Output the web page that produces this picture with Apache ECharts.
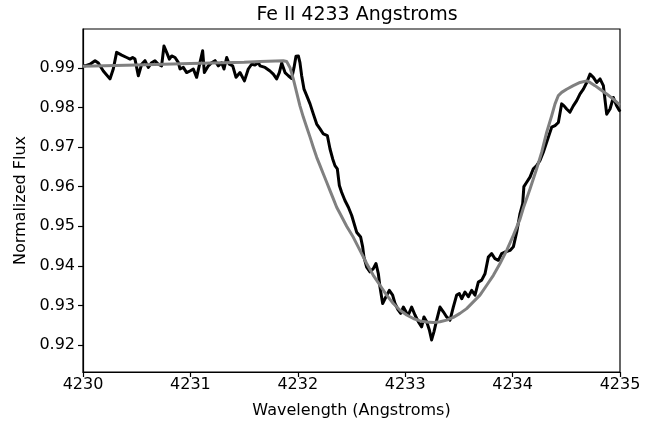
<!DOCTYPE html>
<html>
<head>
<meta charset="utf-8">
<script src="https://cdn.jsdelivr.net/npm/echarts@6/dist/echarts.min.js"></script>
<style>
html,body{margin:0;padding:0;background:#fff;}
#chart{width:659px;height:428px;}
</style>
</head>
<body>
<div id="chart"></div>
<script>
// Observed spectrum (black)
const obsWave = [
4230.000,4230.019,4230.065,4230.112,4230.143,4230.189,4230.251,4230.282,4230.313,4230.360,
4230.407,4230.438,4230.462,4230.484,4230.515,4230.546,4230.577,4230.608,4230.639,4230.670,
4230.701,4230.732,4230.754,4230.779,4230.804,4230.826,4230.857,4230.888,4230.903,4230.934,
4230.965,4230.996,4231.027,4231.058,4231.089,4231.114,4231.130,4231.145,4231.167,4231.198,
4231.229,4231.260,4231.291,4231.313,4231.338,4231.362,4231.394,4231.425,4231.462,4231.503,
4231.539,4231.570,4231.601,4231.633,
4231.648,4231.695,4231.741,4231.772,4231.803,4231.828,4231.850,4231.881,4231.912,4231.943,
4231.965,4231.983,4232.005,4232.020,4232.036,4232.058,4232.083,4232.114,4232.145,4232.176,
4232.207,4232.238,4232.275,4232.300,4232.325,4232.346,4232.368,4232.387,4232.408,4232.439,
4232.471,4232.502,
4232.548,4232.585,4232.604,4232.616,4232.641,4232.672,4232.703,4232.728,4232.750,4232.765,
4232.790,4232.821,4232.852,4232.883,4232.905,4232.936,4232.958,4232.983,4233.007,4233.029,
4233.060,4233.091,4233.122,4233.153,4233.175,4233.200,4233.225,4233.246,4233.268,4233.293,
4233.324,4233.355,4233.386,4233.417,4233.448,4233.479,4233.504,4233.526,4233.557,4233.588,
4233.619,4233.650,4233.681,4233.712,4233.743,4233.774,4233.805,4233.836,4233.867,4233.898,
4233.929,4233.976,4234.007,4234.038,4234.069,4234.094,4234.105,
4234.131,4234.162,4234.193,4234.224,4234.255,4234.286,4234.317,4234.348,4234.364,4234.395,
4234.426,4234.457,4234.479,4234.503,4234.534,4234.565,4234.597,4234.628,4234.659,4234.690,
4234.721,4234.752,4234.783,4234.814,4234.845,4234.876,4234.907,4234.938,4234.969,4234.994,
4235.000
];
const obsFlux = [
0.9905,0.9905,0.9909,0.9918,0.9912,0.9892,0.9872,0.9897,0.9939,0.9932,
0.9926,0.9922,0.9926,0.9922,0.9880,0.9909,0.9918,0.9901,0.9913,0.9918,
0.9909,0.9905,0.9955,0.9939,0.9922,0.9930,0.9926,0.9913,0.9897,0.9901,
0.9888,0.9892,0.9897,0.9876,0.9913,0.9943,0.9888,0.9884,0.9905,0.9913,
0.9918,0.9905,0.9913,0.9897,0.9926,0.9909,0.9905,0.9876,0.9888,0.9867,
0.9897,0.9909,0.9907,0.9913,
0.9905,0.9901,0.9892,0.9884,0.9872,0.9888,0.9912,0.9888,0.9880,0.9873,
0.9901,0.9929,0.9930,0.9913,0.9880,0.9846,0.9830,0.9809,0.9783,0.9758,
0.9746,0.9733,0.9729,0.9695,0.9670,0.9653,0.9645,0.9603,0.9586,0.9565,
0.9548,0.9527,
0.9485,0.9473,0.9448,0.9422,0.9397,0.9385,0.9393,0.9406,0.9380,0.9347,
0.9305,0.9322,0.9338,0.9326,0.9305,0.9288,0.9280,0.9296,0.9284,0.9276,
0.9296,0.9276,0.9259,0.9246,0.9271,0.9259,0.9238,0.9213,0.9234,0.9263,
0.9296,0.9284,0.9271,0.9263,0.9296,0.9326,0.9330,0.9317,0.9334,0.9322,
0.9338,0.9326,0.9359,0.9364,0.9380,0.9422,0.9431,0.9418,0.9414,0.9431,
0.9435,0.9439,0.9448,0.9485,0.9532,0.9557,0.9600,
0.9611,0.9624,0.9645,0.9653,0.9666,0.9687,0.9712,0.9737,0.9750,0.9754,
0.9762,0.9809,0.9804,0.9796,0.9788,0.9804,0.9817,0.9834,0.9846,0.9863,
0.9884,0.9876,0.9863,0.9872,0.9855,0.9783,0.9796,0.9825,0.9804,0.9792,
0.9795
];
// Model fit (grey)
const fitWave = [
4230.000,4230.500,4231.000,4231.500,4231.650,4231.865,4231.896,4231.927,4231.958,4231.989,
4232.020,4232.052,4232.083,4232.114,4232.145,4232.176,4232.207,4232.238,4232.269,4232.300,
4232.331,4232.362,4232.393,4232.455,4232.517,4232.579,4232.641,4232.703,4232.765,4232.827,
4232.889,4232.952,4233.014,4233.076,4233.138,4233.200,4233.262,4233.324,4233.386,4233.448,
4233.510,4233.572,4233.634,4233.696,4233.759,4233.821,4233.883,4233.945,4234.007,4234.069,
4234.100,4234.162,4234.224,4234.271,4234.317,4234.364,4234.395,4234.426,4234.457,4234.503,
4234.565,4234.628,4234.690,4234.721,4234.767,4234.814,4234.876,4234.938,4235.000
];
const fitFlux = [
0.9904,0.9907,0.9911,0.9914,0.9916,0.9918,0.9916,0.9901,0.9872,0.9838,
0.9804,0.9775,0.9750,0.9725,0.9699,0.9674,0.9653,0.9632,0.9611,0.9590,
0.9569,0.9548,0.9532,0.9500,0.9472,0.9439,0.9406,0.9376,0.9351,0.9326,
0.9305,0.9288,0.9276,0.9267,0.9261,0.9258,0.9257,0.9259,0.9263,0.9270,
0.9280,0.9292,0.9309,0.9326,0.9351,0.9376,0.9406,0.9439,0.9477,0.9518,
0.9546,0.9594,0.9645,0.9687,0.9737,0.9779,0.9809,0.9830,0.9838,0.9846,
0.9855,0.9863,0.9867,0.9863,0.9855,0.9846,0.9834,0.9821,0.9806
];
const yTicks = [0.92,0.93,0.94,0.95,0.96,0.97,0.98,0.99];
const xTicks = [4230,4231,4232,4233,4234,4235];

const obsData = obsWave.map((w,i)=>[w,obsFlux[i]]);
const fitData = fitWave.map((w,i)=>[w,fitFlux[i]]);
const FONT = 'DejaVu Sans';

const chart = echarts.init(document.getElementById('chart'), null, {renderer:'canvas'});
chart.setOption({
  animation:false,
  backgroundColor:'#fff',
  title:{
    text:'Fe II 4233 Angstroms',
    left:352, top:1, textAlign:'center',
    textStyle:{fontFamily:FONT,fontSize:19,fontWeight:'normal',color:'#000'}
  },
  grid:{left:83,right:39,top:29,bottom:56,show:true,borderColor:'#000',borderWidth:1.2,backgroundColor:'transparent'},
  xAxis:{
    type:'value',min:xTicks[0],max:xTicks[xTicks.length-1],interval:1,
    name:'Wavelength (Angstroms)',nameLocation:'middle',nameGap:31,
    nameTextStyle:{fontFamily:FONT,fontSize:16,color:'#000'},
    axisLine:{show:true,onZero:false,lineStyle:{color:'#000',width:1.2}},
    axisTick:{show:true,inside:false,length:5,lineStyle:{color:'#000',width:1.2}},
    axisLabel:{fontFamily:FONT,fontSize:16,color:'#000',margin:5,formatter:v=>String(v)},
    splitLine:{show:false}
  },
  yAxis:{
    type:'value',min:0.9132,max:0.9998,
    name:'Normalized Flux',nameLocation:'middle',nameGap:53,nameRotate:90,
    nameTextStyle:{fontFamily:FONT,fontSize:16,color:'#000'},
    axisLine:{show:true,onZero:false,lineStyle:{color:'#000',width:1.2}},
    axisTick:{show:true,inside:false,length:5,customValues:yTicks,lineStyle:{color:'#000',width:1.2}},
    axisLabel:{fontFamily:FONT,fontSize:16,color:'#000',margin:8,customValues:yTicks,
      formatter:v=>v.toFixed(2)},
    splitLine:{show:false}
  },
  series:[
    {type:'line',data:obsData,showSymbol:false,symbol:'none',lineStyle:{color:'#000',width:3,join:'round'},z:2},
    {type:'line',data:fitData,showSymbol:false,symbol:'none',lineStyle:{color:'#808080',width:3,join:'round'},z:3}
  ]
});
</script>
</body>
</html>
